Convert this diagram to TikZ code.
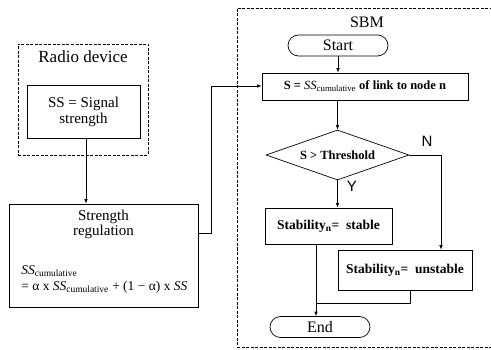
\documentclass[tikz,border=0pt]{standalone}
\usepackage{fontspec}
\setmainfont{Liberation Serif}
\newfontfamily\yesnofont{Liberation Sans}
\usetikzlibrary{positioning,shapes.geometric,shapes.misc,arrows.meta}

\newcommand{\sscum}{\textit{SS}\textsubscript{cumulative}}

\begin{document}
\begin{tikzpicture}[x=1pt, y=-1pt, >={Latex[length=4.5pt,width=3.5pt]}, line width=0.7pt,
  block/.style={rectangle, draw, inner sep=2pt, align=center},
  group/.style={rectangle, draw, dash pattern=on 3pt off 1.5pt},
  terminal/.style={rounded rectangle, draw, minimum width=100pt, minimum height=21pt, inner sep=0pt, font=\fontsize{16}{16}\selectfont},
  decision/.style={diamond, draw, aspect=2.8, inner sep=0pt, minimum width=143pt, minimum height=50pt},
  title/.style={font=\fontsize{17}{17}\selectfont},
  yesno/.style={font=\yesnofont\fontsize{15}{15}\selectfont}]

  \useasboundingbox (0,0) rectangle (491,350);

  % radio device
  \node[group, minimum width=130pt, minimum height=111pt] (radio) at (83,99.5) {};
  \node[title] (radiotitle) at (83,57) {Radio device};
  \node[block, minimum width=113pt, minimum height=53pt, font=\fontsize{15}{16}\selectfont] (signal) at (83.5,111.5) {SS = Signal\\strength};

  % strength regulation
  \node[block, minimum width=189pt, minimum height=103pt] (strength) at (103.5,255.5) {};
  \node[font=\fontsize{15}{15}\selectfont, align=center] (regtitle) at (103.5,224.5) {Strength\\regulation};
  \node[font=\fontsize{13.5}{16}\selectfont, align=left, anchor=west, inner sep=0pt] (formula) at (21,279)
    {\sscum\\= α x \sscum{} + (1 − α) x \textit{SS}};

  % SBM
  \node[group, minimum width=262pt, minimum height=339pt] (sbm) at (368,177.5) {};
  \node[title, font=\fontsize{16}{16}\selectfont] (sbmtitle) at (367,22) {SBM};
  \node[terminal] (start) at (338,45.5) {Start};
  \node[block, minimum width=206pt, minimum height=27pt, font=\bfseries\fontsize{12.5}{12.5}\selectfont] (link) at (365,86.5)
    {S = \textmd{\sscum} of link to node n};
  \node[decision, font=\bfseries\fontsize{12.5}{12.5}\selectfont] (check) at (337.5,155) {S \textgreater{} Threshold};
  \node[block, minimum width=127pt, minimum height=36pt, font=\bfseries\fontsize{13.5}{13.5}\selectfont] (stable) at (328.5,226)
    {Stability\textsubscript{n}=~ stable};
  \node[block, minimum width=134pt, minimum height=40pt, font=\bfseries\fontsize{13.5}{13.5}\selectfont] (unstable) at (405,270)
    {Stability\textsubscript{n}=~ unstable};
  \node[terminal] (end) at (320,327) {End};

  \coordinate (nturn) at (441,155);
  \coordinate (merge) at (316,303);
  \node[yesno] (yes) at (352,186) {Y};
  \node[yesno] (no) at (427,141) {N};

  \draw[->] (signal.south -| 86,0) -- (strength.north -| 86,0);
  \draw[->] (strength.east |- 0,233) -- (211,233) -- (211,86) -- (link.west |- 0,86);
  \draw[->] (start.south -| 338,0) -- (link.north -| 338,0);
  \draw[->] (link.south -| check.north) -- (check.north);
  \draw[->] (check.south) -- (stable.north -| check.south);
  \draw[->] (check.east) -- (nturn) -- (unstable.north -| nturn);
  \draw[->] (stable.south -| merge) -- (end.north -| merge);
  \draw (unstable.south -| 410,0) -- (410,303) -- (merge);
\end{tikzpicture}
\end{document}
